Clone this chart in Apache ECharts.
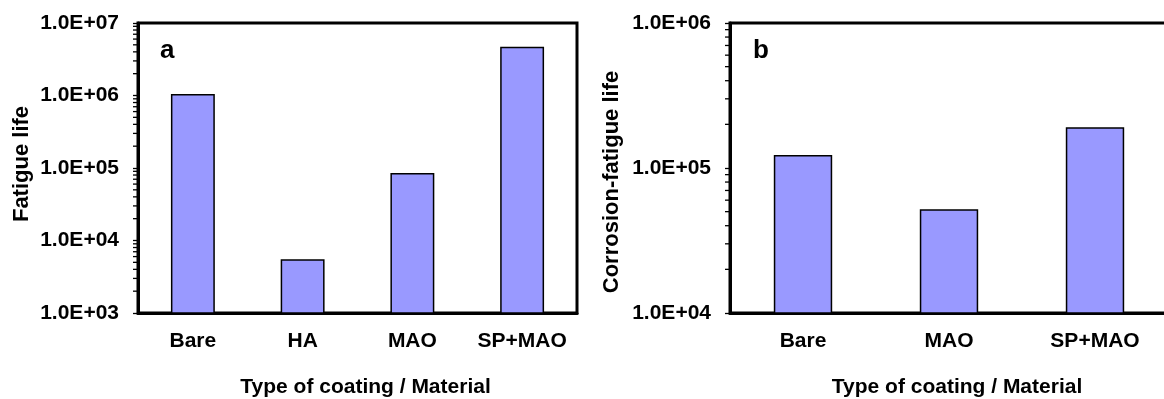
<!DOCTYPE html>
<html>
<head>
<meta charset="utf-8">
<script src="https://cdn.jsdelivr.net/npm/echarts@6/dist/echarts.min.js"></script>
<style>
html,body{margin:0;padding:0;background:#fff;}
#chart{width:1164px;height:399px;}
</style>
</head>
<body>
<div id="chart"></div>
<script>
// ---- data ----
const categoriesA = ['Bare', 'HA', 'MAO', 'SP+MAO'];
const fatigueLife = [1.05e6, 5.5e3, 8.5e4, 4.7e6];
const categoriesB = ['Bare', 'MAO', 'SP+MAO'];
const corrosionFatigueLife = [1.23e5, 5.2e4, 1.91e5];
const tickLabelsA = ['1.0E+03', '1.0E+04', '1.0E+05', '1.0E+06', '1.0E+07'];
const tickLabelsB = ['1.0E+04', '1.0E+05', '1.0E+06'];
const minorMultipliers = [2, 3, 4, 5, 6, 7, 8, 9];
const decadesA = [1e3, 1e4, 1e5, 1e6];
const decadesB = [1e4, 1e5];

const FONT = 'Liberation Sans, Arial, sans-serif';
const minorA = [];
decadesA.forEach(d => minorMultipliers.forEach(m => minorA.push([0, m * d])));
const minorB = [];
decadesB.forEach(d => minorMultipliers.forEach(m => minorB.push([0, m * d])));

function labelFrom(list, minExp) {
  return function (v) {
    const e = Math.round(Math.log10(v));
    return list[e - minExp] || '';
  };
}

function minorTickSeries(data, idx) {
  return {
    type: 'custom',
    xAxisIndex: idx, yAxisIndex: idx,
    silent: true, clip: false, z: 5,
    data: data,
    renderItem: function (params, api) {
      const p = api.coord([api.value(0), api.value(1)]);
      const x0 = params.coordSys.x;
      return {
        type: 'line',
        shape: { x1: x0 - 5, y1: p[1], x2: x0, y2: p[1] },
        style: { stroke: '#000', lineWidth: 1.3 }
      };
    }
  };
}

const axisText = { color: '#000', fontSize: 21, fontWeight: 'bold', fontFamily: FONT };

function xAxis(idx, cats) {
  return {
    type: 'category', gridIndex: idx, data: cats,
    axisLine: { lineStyle: { color: '#000', width: 3 } },
    axisTick: { show: false },
    axisLabel: Object.assign({ margin: 18, interval: 0 }, axisText),
    name: 'Type of coating / Material',
    nameLocation: 'middle', nameGap: 64,
    nameTextStyle: Object.assign({ padding: [0, 0, 0, 16] }, axisText)
  };
}

function yAxis(idx, min, max, labels, minExp, name, gap, pad) {
  return {
    type: 'log', logBase: 10, gridIndex: idx, min: min, max: max,
    axisLine: { show: true, lineStyle: { color: '#000', width: 3 } },
    axisTick: { show: true, inside: false, length: 5, lineStyle: { color: '#000', width: 1.3 } },
    splitLine: { show: false },
    axisLabel: Object.assign({ margin: 19, formatter: labelFrom(labels, minExp) }, axisText),
    name: name, nameLocation: 'middle', nameGap: gap,
    nameTextStyle: Object.assign({ padding: pad }, axisText, { fontSize: 22 })
  };
}

const chart = echarts.init(document.getElementById('chart'), null, { renderer: 'canvas' });
chart.setOption({
  animation: false,
  backgroundColor: '#fff',
  grid: [
    { left: 138, top: 23, width: 439, height: 290, show: true, borderColor: '#000', borderWidth: 3, backgroundColor: 'transparent', containLabel: false, outerBoundsMode: 'none' },
    { left: 730, top: 23, width: 438, height: 290, show: true, borderColor: '#000', borderWidth: 3, backgroundColor: 'transparent', containLabel: false, outerBoundsMode: 'none' }
  ],
  xAxis: [xAxis(0, categoriesA), xAxis(1, categoriesB)],
  yAxis: [
    yAxis(0, 1e3, 1e7, tickLabelsA, 3, 'Fatigue life', 105, [0, 0, 0, 8]),
    yAxis(1, 1e4, 1e6, tickLabelsB, 4, 'Corrosion-fatigue life', 107, [0, 28, 0, 0])
  ],
  graphic: [
    { type: 'text', left: 160, top: 38, style: { text: 'a', fill: '#000', font: 'bold 26px ' + FONT } },
    { type: 'text', left: 753, top: 38, style: { text: 'b', fill: '#000', font: 'bold 26px ' + FONT } }
  ],
  series: [
    {
      type: 'bar', xAxisIndex: 0, yAxisIndex: 0, data: fatigueLife, barWidth: '40%',
      itemStyle: { color: '#9999FF', borderColor: '#000', borderWidth: 1.5 }
    },
    {
      type: 'bar', xAxisIndex: 1, yAxisIndex: 1, data: corrosionFatigueLife, barWidth: '40%',
      itemStyle: { color: '#9999FF', borderColor: '#000', borderWidth: 1.5 }
    },
    minorTickSeries(minorA, 0),
    minorTickSeries(minorB, 1)
  ]
});
</script>
</body>
</html>
